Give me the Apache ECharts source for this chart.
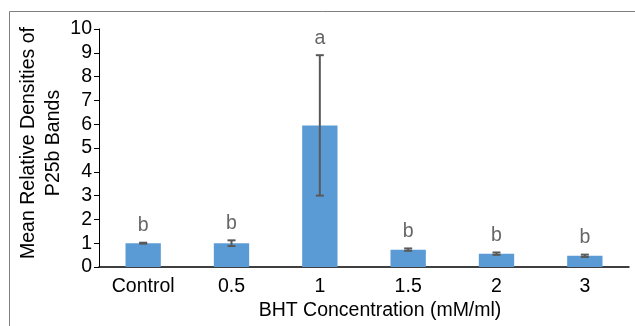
<!DOCTYPE html>
<html>
<head>
<meta charset="utf-8">
<script src="https://cdn.jsdelivr.net/npm/echarts@6/dist/echarts.min.js"></script>
<style>
  html, body { margin: 0; padding: 0; background: #fff; }
  #chart { width: 635px; height: 326px; }
</style>
</head>
<body>
<div id="chart"></div>
<script>
const categories = ["Control", "0.5", "1", "1.5", "2", "3"];
const means = [1.0, 1.0, 5.95, 0.73, 0.56, 0.47];
const errors = [0.02, 0.12, 2.95, 0.05, 0.05, 0.05];
const letters = ["b", "b", "a", "b", "b", "b"];

const FONT = "Liberation Sans, Arial, sans-serif";
const FS = 19.5;

const chart = echarts.init(document.getElementById("chart"));

const errData = means.map((m, i) => [i, m - errors[i], m + errors[i]]);
const letterData = means.map((m, i) => [i, m + errors[i]]);

chart.setOption({
  animation: false,
  textStyle: { fontFamily: FONT },
  graphic: [
    {
      type: "rect",
      shape: { x: 9.5, y: 11.5, width: 640, height: 330 },
      style: { fill: "none", stroke: "#7f7f7f", lineWidth: 1 },
      silent: true,
    },
  ],
  grid: { left: 99, right: 6, top: 29, bottom: 59, outerBoundsMode: "none" },
  xAxis: {
    type: "category",
    data: categories,
    name: "BHT Concentration (mM/ml)",
    nameLocation: "middle",
    nameGap: 34,
    nameMoveOverlap: false,
    nameTextStyle: { fontSize: FS, color: "#000", fontFamily: FONT, padding: [0, 0, 0, 32] },
    axisLine: { lineStyle: { color: "#000", width: 1.5 } },
    axisTick: { show: false },
    axisLabel: { fontSize: FS, color: "#000", margin: 10, fontFamily: FONT },
  },
  yAxis: {
    type: "value",
    min: 0,
    max: 10,
    interval: 1,
    name: "Mean Relative Densities of\nP25b Bands",
    nameLocation: "middle",
    nameGap: 33,
    nameMoveOverlap: false,
    nameTextStyle: { fontSize: FS, color: "#000", lineHeight: 25, fontFamily: FONT, padding: [0, 0, 0, 10] },
    axisLine: { show: true, lineStyle: { color: "#000", width: 1 } },
    axisTick: { show: true, length: 5, lineStyle: { color: "#000" } },
    axisLabel: { fontSize: FS, color: "#000", margin: 7, fontFamily: FONT },
    splitLine: { show: false },
  },
  series: [
    {
      type: "bar",
      data: means,
      barWidth: "40%",
      itemStyle: { color: "#5b9bd5" },
    },
    {
      type: "custom",
      data: errData,
      z: 5,
      renderItem: function (params, api) {
        const x = api.coord([api.value(0), 0])[0];
        const lo = api.coord([api.value(0), api.value(1)])[1];
        const hi = api.coord([api.value(0), api.value(2)])[1];
        const cap = 4;
        const style = { stroke: "#595959", lineWidth: 2 };
        return {
          type: "group",
          children: [
            { type: "line", shape: { x1: x, y1: lo, x2: x, y2: hi }, style: style },
            { type: "line", shape: { x1: x - cap, y1: hi, x2: x + cap, y2: hi }, style: style },
            { type: "line", shape: { x1: x - cap, y1: lo, x2: x + cap, y2: lo }, style: style },
          ],
        };
      },
    },
    {
      type: "scatter",
      data: letterData,
      symbolSize: 0,
      label: {
        show: true,
        position: "top",
        distance: 7,
        fontSize: FS,
        color: "#404040",
        fontFamily: FONT,
        formatter: (p) => letters[p.dataIndex],
      },
    },
  ],
});
</script>
</body>
</html>
